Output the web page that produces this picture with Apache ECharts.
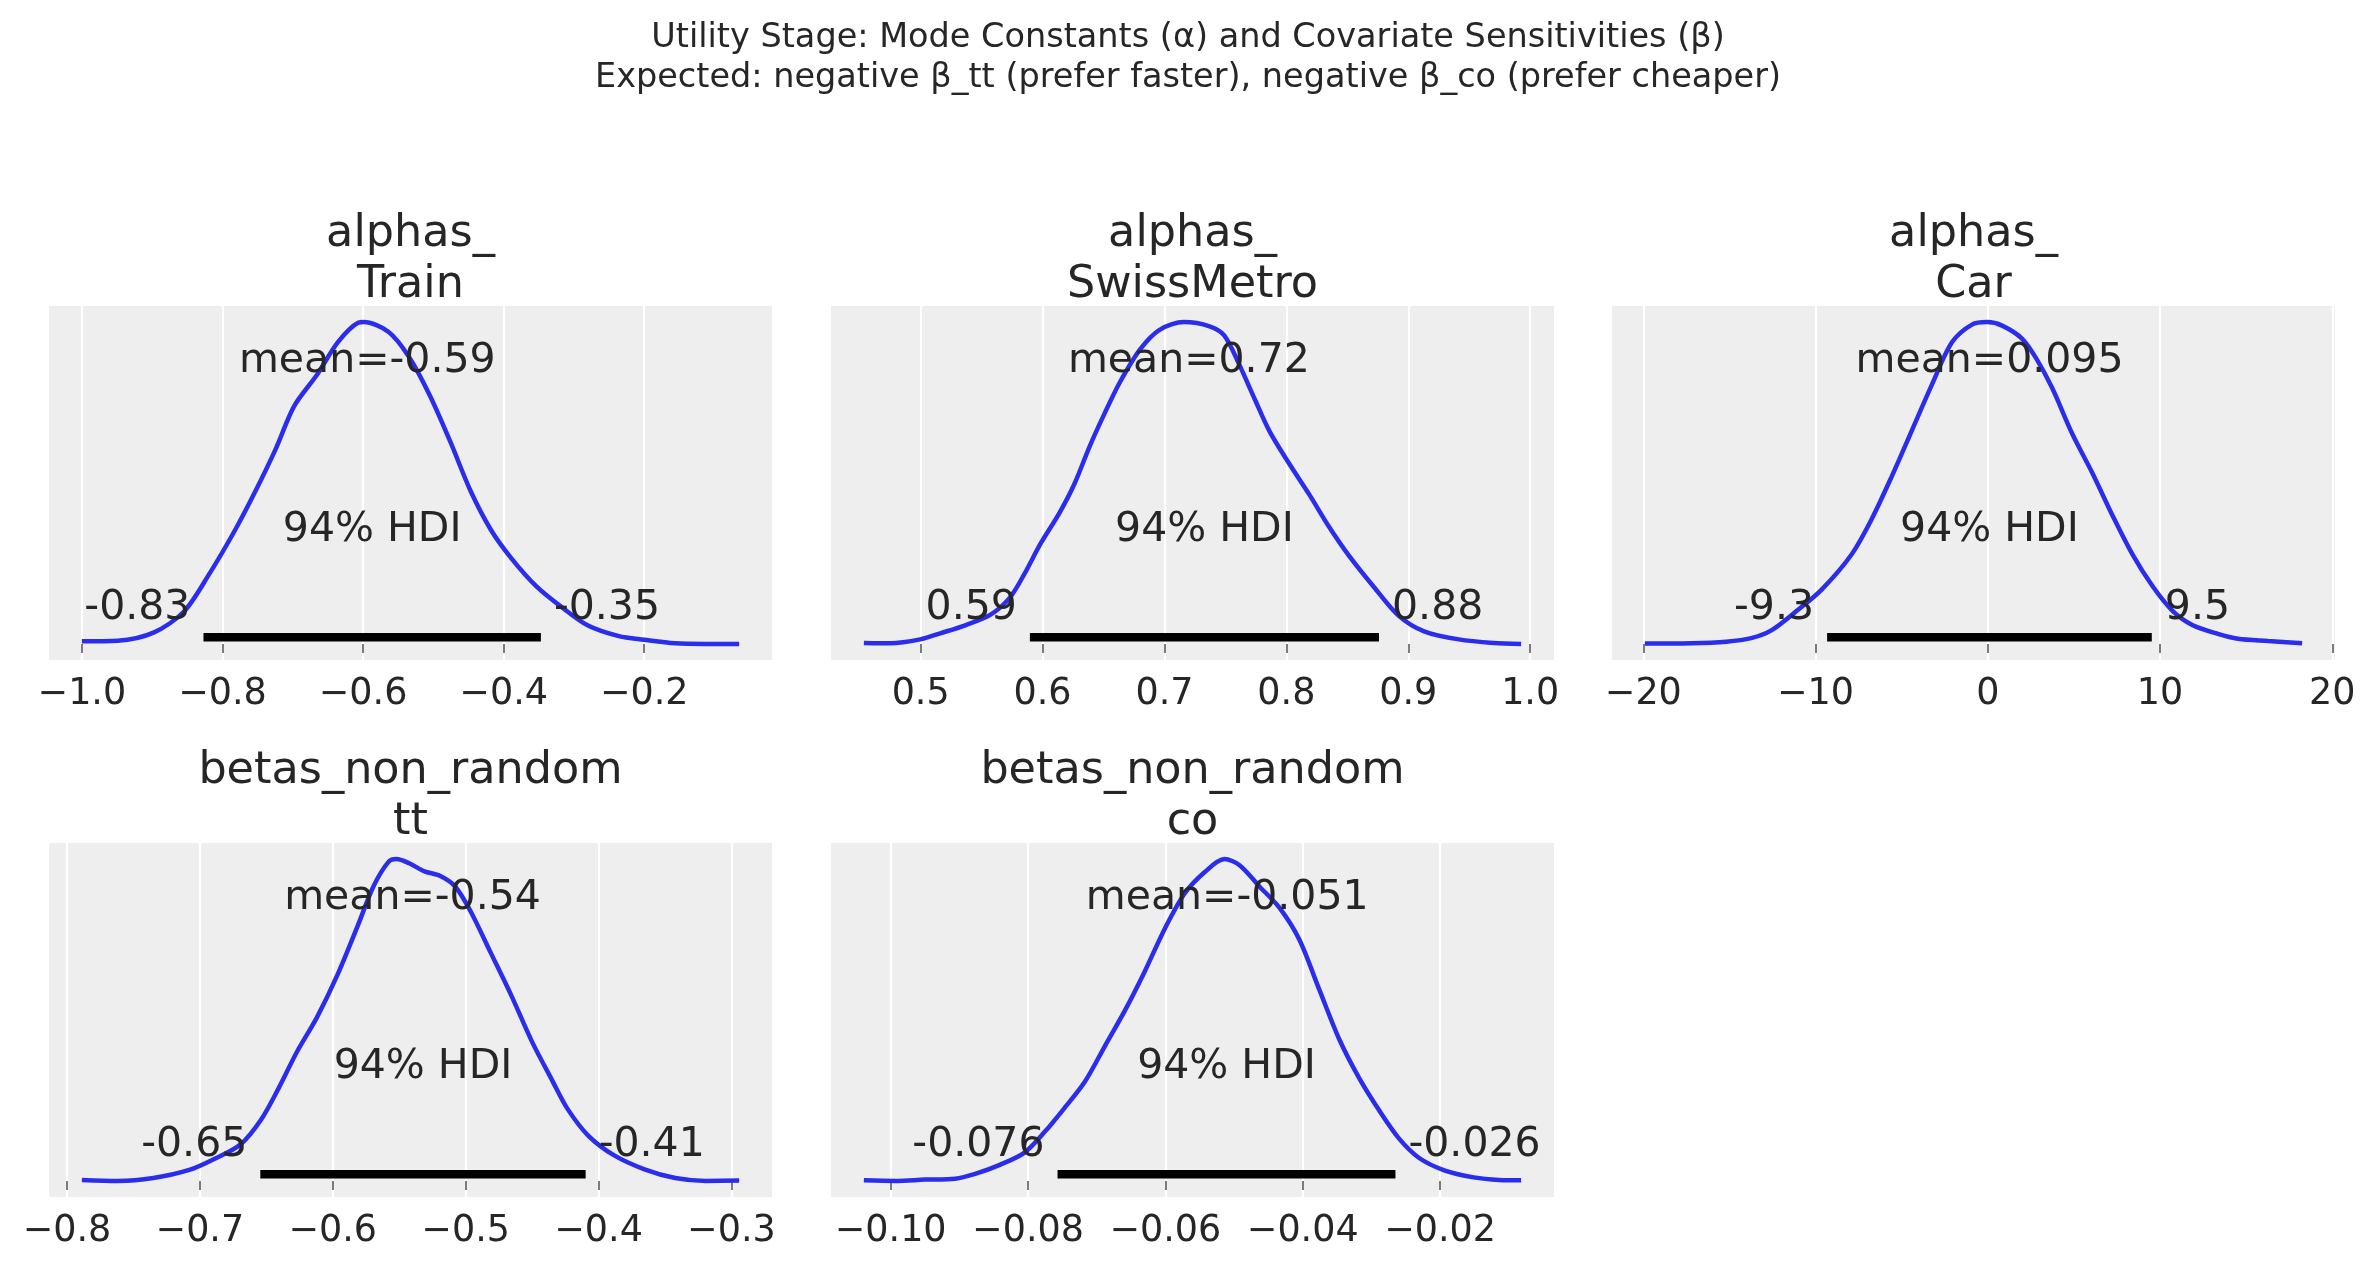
<!DOCTYPE html>
<html>
<head>
<meta charset="utf-8">
<script src="https://cdn.jsdelivr.net/npm/echarts@6/dist/echarts.min.js"></script>
<style>
  html, body { margin: 0; padding: 0; background: #ffffff; }
  #chart { width: 2375px; height: 1270px; }
</style>
</head>
<body>
<div id="chart"></div>
<script>
// panel titles
const titles = ['alphas_\nTrain', 'alphas_\nSwissMetro', 'alphas_\nCar', 'betas_non_random\ntt', 'betas_non_random\nco'];

// posterior densities (height relative to the peak)
const trainX = [-1.0, -0.949, -0.898, -0.855, -0.818, -0.782, -0.753, -0.724, -0.698, -0.665, -0.636, -0.607, -0.599, -0.564, -0.535, -0.505, -0.476, -0.447, -0.418, -0.389, -0.353, -0.316, -0.28, -0.236, -0.2, -0.156, -0.113, -0.065];
const trainY = [0.008, 0.01, 0.035, 0.10, 0.22, 0.354, 0.475, 0.607, 0.739, 0.838, 0.937, 0.998, 1.0, 0.97, 0.893, 0.772, 0.629, 0.475, 0.354, 0.266, 0.178, 0.112, 0.057, 0.024, 0.013, 0.002, 0.0, 0.0];

const metroX = [0.4534, 0.475, 0.4996, 0.516, 0.536, 0.557, 0.573, 0.5855, 0.598, 0.614, 0.626, 0.639, 0.651, 0.663, 0.680, 0.696, 0.716, 0.737, 0.749, 0.761, 0.774, 0.786, 0.802, 0.819, 0.835, 0.851, 0.872, 0.892, 0.913, 0.9415, 0.970, 0.9926];
const metroY = [0.003, 0.002, 0.014, 0.033, 0.057, 0.09, 0.143, 0.22, 0.309, 0.408, 0.496, 0.617, 0.717, 0.81, 0.915, 0.976, 1.0, 0.987, 0.959, 0.871, 0.761, 0.662, 0.562, 0.463, 0.364, 0.276, 0.176, 0.088, 0.039, 0.014, 0.003, 0.0];

const carX = [-19.91, -17.23, -15.19, -13.74, -12.57, -11.11, -9.66, -7.91, -6.74, -5.58, -4.41, -3.25, -2.08, -0.92, -0.04, 0.83, 2.0, 2.87, 3.74, 4.91, 6.07, 7.24, 8.40, 9.57, 10.74, 11.9, 13.36, 14.52, 16.27, 18.25];
const carY = [0.001, 0.002, 0.007, 0.018, 0.042, 0.102, 0.168, 0.278, 0.388, 0.52, 0.663, 0.805, 0.937, 0.992, 1.0, 0.989, 0.948, 0.882, 0.795, 0.652, 0.531, 0.399, 0.278, 0.179, 0.102, 0.058, 0.031, 0.016, 0.009, 0.002];

const ttX = [-0.7888, -0.7619, -0.735, -0.708, -0.6888, -0.6695, -0.654, -0.6406, -0.6272, -0.6118, -0.5964, -0.581, -0.5694, -0.5579, -0.5521, -0.5425, -0.531, -0.5194, -0.5079, -0.4963, -0.4809, -0.4655, -0.45, -0.4347, -0.4232, -0.4078, -0.3885, -0.3654, -0.3423, -0.3192, -0.2942];
const ttY = [0.003, 0.0, 0.009, 0.034, 0.069, 0.113, 0.19, 0.289, 0.399, 0.509, 0.641, 0.795, 0.915, 0.992, 1.0, 0.987, 0.962, 0.948, 0.915, 0.838, 0.707, 0.575, 0.432, 0.311, 0.223, 0.141, 0.080, 0.036, 0.009, 0.0, 0.001];

const coX = [-0.1039, -0.0993, -0.095, -0.0906, -0.0877, -0.0841, -0.0805, -0.0775, -0.0746, -0.0717, -0.0688, -0.0659, -0.063, -0.0601, -0.0572, -0.0543, -0.0514, -0.0492, -0.0463, -0.0434, -0.0405, -0.0376, -0.0347, -0.0318, -0.0289, -0.026, -0.0231, -0.0194, -0.0151, -0.0114, -0.0082];
const coY = [0.002, 0.0, 0.004, 0.007, 0.022, 0.05, 0.088, 0.154, 0.229, 0.309, 0.419, 0.529, 0.651, 0.783, 0.893, 0.959, 1.0, 0.981, 0.915, 0.849, 0.75, 0.595, 0.441, 0.32, 0.22, 0.132, 0.072, 0.033, 0.011, 0.003, 0.002];

// point estimates and 94% HDI
const means = [-0.594, 0.72, 0.10, -0.54, -0.051];
const meanLabels = ['-0.59', '0.72', '0.095', '-0.54', '-0.051'];
const hdiLow = [-0.827, 0.5896, -9.33, -0.6545, -0.0757];
const hdiHigh = [-0.347, 0.876, 9.52, -0.4097, -0.0265];
const hdiLowLabels = ['-0.83', '0.59', '-9.3', '-0.65', '-0.076'];
const hdiHighLabels = ['-0.35', '0.88', '9.5', '-0.41', '-0.026'];

// x tick positions and labels
const trainTicks = [-1.0, -0.8, -0.6, -0.4, -0.2];
const trainTickLabels = ['\u22121.0', '\u22120.8', '\u22120.6', '\u22120.4', '\u22120.2'];
const metroTicks = [0.5, 0.6, 0.7, 0.8, 0.9, 1.0];
const metroTickLabels = ['0.5', '0.6', '0.7', '0.8', '0.9', '1.0'];
const carTicks = [-20, -10, 0, 10, 20];
const carTickLabels = ['\u221220', '\u221210', '0', '10', '20'];
const ttTicks = [-0.8, -0.7, -0.6, -0.5, -0.4, -0.3];
const ttTickLabels = ['\u22120.8', '\u22120.7', '\u22120.6', '\u22120.5', '\u22120.4', '\u22120.3'];
const coTicks = [-0.10, -0.08, -0.06, -0.04, -0.02];
const coTickLabels = ['\u22120.10', '\u22120.08', '\u22120.06', '\u22120.04', '\u22120.02'];

const xs = [trainX, metroX, carX, ttX, coX];
const ys = [trainY, metroY, carY, ttY, coY];
const ticks = [trainTicks, metroTicks, carTicks, ttTicks, coTicks];
const tickLabels = [trainTickLabels, metroTickLabels, carTickLabels, ttTickLabels, coTickLabels];

// layout
const FONT = 'DejaVu Sans';
const TEXT = '#262626';
const lefts = [49, 831, 1612, 49, 831];
const tops = [306, 306, 306, 843, 843];
const W = 723, H = 354;
const YMAX = 1.05;

var myChart = echarts.init(document.getElementById('chart'));

const grids = [], xAxes = [], yAxes = [], series = [], titleList = [];

titleList.push({
    text: 'Utility Stage: Mode Constants (\u03b1) and Covariate Sensitivities (\u03b2)\nExpected: negative \u03b2_tt (prefer faster), negative \u03b2_co (prefer cheaper)',
    left: 1188, top: 18, textAlign: 'center', padding: 0,
    textStyle: { fontFamily: FONT, fontSize: 33.5, fontWeight: 'normal', color: TEXT, lineHeight: 40 }
});

for (let i = 0; i < 5; i++) {
    const x = xs[i];
    const lo = x[0], hi = x[x.length - 1];
    const pad = (hi - lo) * 0.05;

    grids.push({ left: lefts[i], top: tops[i], width: W, height: H, show: true,
        backgroundColor: '#eeeeee', borderWidth: 0, containLabel: false });

    titleList.push({
        text: titles[i], left: lefts[i] + W / 2, top: tops[i] - 97, textAlign: 'center', padding: 0,
        textStyle: { fontFamily: FONT, fontSize: 44.5, fontWeight: 'normal', color: TEXT, lineHeight: 51 }
    });

    const tv = ticks[i], tl = tickLabels[i];
    xAxes.push({
        type: 'value', gridIndex: i, min: lo - pad, max: hi + pad,
        axisLine: { show: false },
        axisTick: { show: true, length: 9, customValues: tv, lineStyle: { color: '#6e6e6e', width: 1.8 } },
        axisLabel: {
            customValues: tv, margin: 16, fontFamily: FONT, fontSize: 36.5, color: TEXT,
            formatter: function (v) {
                let best = 0;
                for (let k = 1; k < tv.length; k++) if (Math.abs(tv[k] - v) < Math.abs(tv[best] - v)) best = k;
                return tl[best];
            }
        },
        splitLine: { show: true, lineStyle: { color: '#ffffff', width: 2.2 } }
    });
    yAxes.push({ type: 'value', gridIndex: i, min: -0.05, max: YMAX, show: false, splitLine: { show: false } });

    series.push({
        type: 'line', xAxisIndex: i, yAxisIndex: i, smooth: 0.3, symbol: 'none', silent: true,
        lineStyle: { color: '#2a2eec', width: 4.5 },
        data: x.map((v, k) => [v, ys[i][k]]), z: 3
    });
    series.push({
        type: 'line', xAxisIndex: i, yAxisIndex: i, symbol: 'none', silent: true,
        lineStyle: { color: '#000000', width: 8.5, cap: 'butt' },
        data: [[hdiLow[i], YMAX * 0.02], [hdiHigh[i], YMAX * 0.02]], z: 4
    });

    const lab = (align) => ({
        show: true, position: 'inside', align: align, verticalAlign: 'middle',
        offset: [0, -12], fontFamily: FONT, fontSize: 41, color: TEXT,
        textBorderWidth: 0, opacity: 1,
        formatter: p => p.data.txt
    });
    series.push({
        type: 'scatter', xAxisIndex: i, yAxisIndex: i, symbolSize: 1, silent: true,
        itemStyle: { color: 'rgba(0,0,0,0)', opacity: 1 }, z: 5,
        data: [
            { value: [means[i], YMAX * 0.8], txt: 'mean=' + meanLabels[i], label: lab('center') },
            { value: [(hdiLow[i] + hdiHigh[i]) / 2, YMAX * 0.3], txt: '94% HDI', label: lab('center') },
            { value: [hdiLow[i], YMAX * 0.07], txt: hdiLowLabels[i] + ' ', label: lab('right') },
            { value: [hdiHigh[i], YMAX * 0.07], txt: ' ' + hdiHighLabels[i], label: lab('left') }
        ]
    });
}

let option = {
    animation: false,
    backgroundColor: '#ffffff',
    title: titleList,
    grid: grids,
    xAxis: xAxes,
    yAxis: yAxes,
    series: series
};

myChart.setOption(option);
</script>
</body>
</html>
